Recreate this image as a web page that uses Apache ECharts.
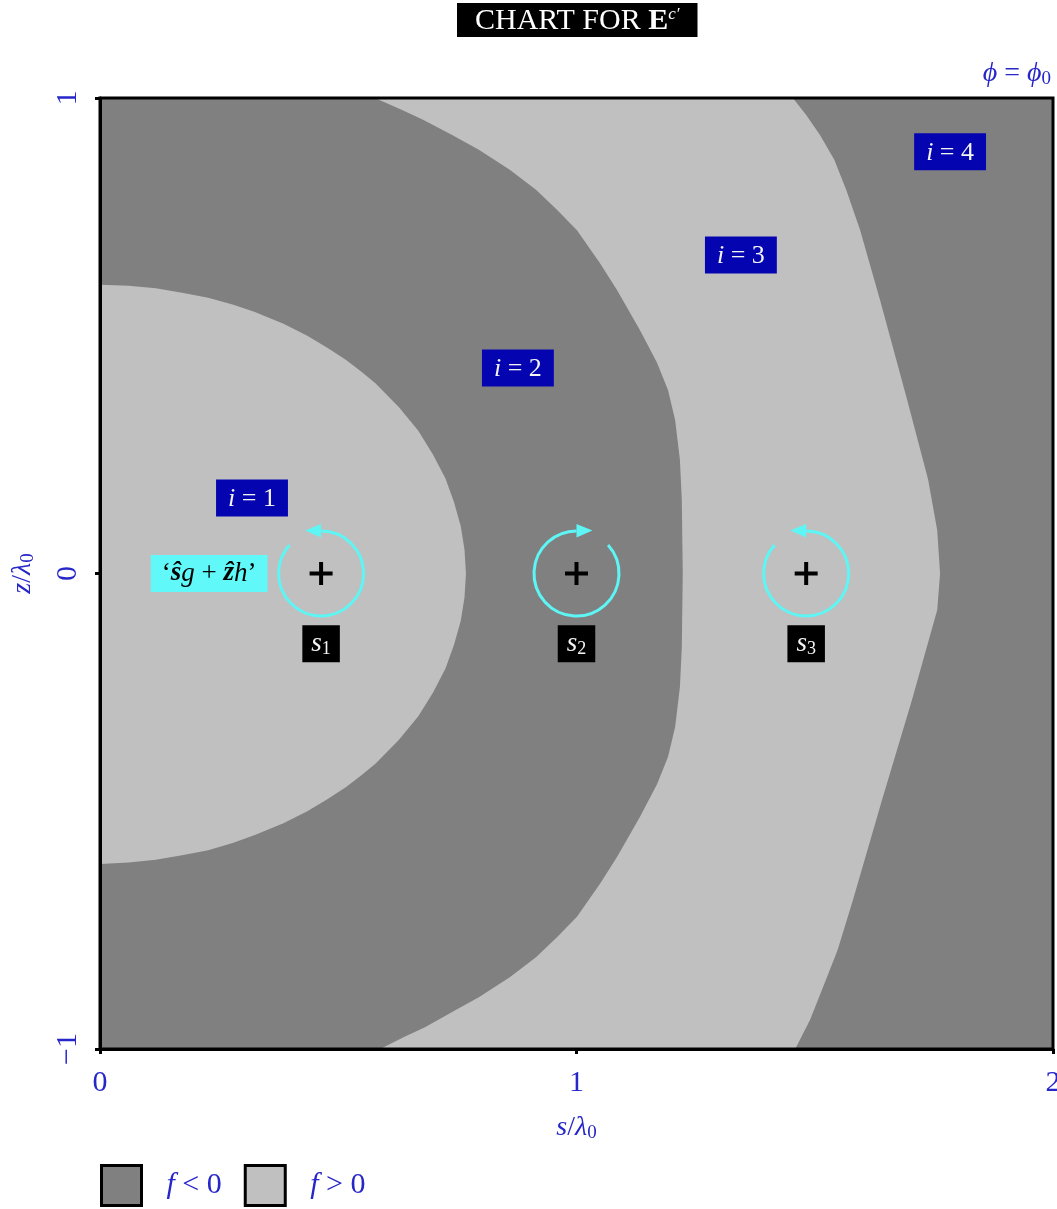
<!DOCTYPE html>
<html><head><meta charset="utf-8">
<script src="https://cdn.jsdelivr.net/npm/echarts@6/dist/echarts.min.js"></script>
<style>html,body{margin:0;padding:0;background:#fff}#c{width:1057px;height:1209px}</style>
</head><body><div id="c"></div>
<script>
// ---- data (s/λ0, z/λ0) ----
const sTicks = [0, 1, 2];
const zTicks = [-1, 0, 1];
const domain = [[0, -1], [2, -1], [2, 1], [0, 1]];
// boundary of the inner f>0 region (i=1), top to bottom
const curve1 = [[0, 0.607], [0.06, 0.605], [0.117, 0.6], [0.175, 0.59], [0.227, 0.58], [0.28, 0.565],
  [0.325, 0.55], [0.385, 0.525], [0.435, 0.5], [0.477, 0.475], [0.515, 0.45], [0.548, 0.425],
  [0.578, 0.4], [0.627, 0.35], [0.668, 0.3], [0.699, 0.25], [0.725, 0.2], [0.743, 0.15], [0.757, 0.1],
  [0.765, 0.05], [0.768, 0], [0.765, -0.05], [0.757, -0.1], [0.743, -0.15], [0.725, -0.2], [0.699, -0.25],
  [0.668, -0.3], [0.627, -0.35], [0.578, -0.4], [0.548, -0.425], [0.515, -0.45], [0.477, -0.475],
  [0.435, -0.5], [0.385, -0.525], [0.325, -0.55], [0.28, -0.566], [0.227, -0.582], [0.175, -0.592],
  [0.117, -0.602], [0.06, -0.608], [0, -0.611]];
// boundary between i=2 (f<0) and i=3 (f>0), top to bottom
const curve2 = [[0.577, 1.0], [0.634, 0.975], [0.678, 0.954], [0.739, 0.922], [0.795, 0.891],
  [0.860, 0.849], [0.915, 0.807], [0.959, 0.765], [1.001, 0.722], [1.049, 0.653], [1.085, 0.596],
  [1.133, 0.512], [1.169, 0.443], [1.192, 0.386], [1.207, 0.323], [1.217, 0.239], [1.221, 0.155],
  [1.223, 0.0], [1.221, -0.155], [1.217, -0.239], [1.207, -0.323], [1.192, -0.386], [1.169, -0.443],
  [1.133, -0.512], [1.085, -0.596], [1.049, -0.653], [1.001, -0.722], [0.959, -0.765], [0.915, -0.807],
  [0.860, -0.849], [0.795, -0.891], [0.739, -0.922], [0.682, -0.954], [0.638, -0.975], [0.588, -1.0]];
// boundary between i=3 (f>0) and i=4 (f<0), top to bottom
const curve3 = [[1.454, 1.0], [1.482, 0.964], [1.511, 0.922], [1.541, 0.870], [1.566, 0.807],
  [1.595, 0.723], [1.637, 0.575], [1.694, 0.365], [1.738, 0.197], [1.757, 0.091], [1.763, 0.0],
  [1.757, -0.077], [1.704, -0.266], [1.641, -0.477], [1.580, -0.687], [1.548, -0.792], [1.515, -0.876],
  [1.490, -0.939], [1.459, -1.0]];
// sources
const sourceS = [0.464, 1.0, 1.482];
const sourceZ = [0, 0, 0];
const sourceSpin = [-1, 1, -1];          // -1 counter-clockwise, 1 clockwise
const sourceNames = ['1', '2', '3'];
const sourceLabelZ = [-0.148, -0.148, -0.148];
// region index labels
const regionIdx = [1, 2, 3, 4];
const regionLabelS = [0.319, 0.877, 1.345, 1.784];
const regionLabelZ = [0.159, 0.432, 0.670, 0.887];
// field label
const fieldLabelPos = [0.229, 0];

// ---- styles ----
const DARK = '#808080', LIGHT = '#c0c0c0', BLUE = '#2626c9', CYAN = '#5ef5f5';
const SERIF = '"Liberation Serif","DejaVu Serif",serif';

const darkPolys = [domain];
const lightPolys = [curve1, curve2.concat(curve3.slice().reverse())];

function regionSeries(name, color, polys, z) {
  return {
    type: 'custom', name: name, coordinateSystem: 'cartesian2d', data: [[0, 0]], z: z, silent: true,
    itemStyle: { color: color },
    renderItem: function (params, api) {
      return { type: 'group', children: polys.map(function (pts) {
        return { type: 'polygon', shape: { points: pts.map(function (p) { return api.coord(p); }) },
          style: { fill: color, stroke: null } };
      }) };
    }
  };
}
function labelScatter(name, data, label) {
  return { type: 'scatter', name: name, z: 6, silent: true, symbolSize: 1,
    itemStyle: { color: 'rgba(0,0,0,0)', opacity: 1 }, emphasis: { disabled: true },
    data: data, label: label };
}

const chart = echarts.init(document.getElementById('c'), null, { renderer: 'canvas' });
const sub = { fontFamily: SERIF, fontSize: 19, color: BLUE, verticalAlign: 'bottom', lineHeight: 18 };
chart.setOption({
  animation: false,
  backgroundColor: '#fff',
  title: [
    { text: '{a|CHART FOR }{b|E}{c|c′}', left: 457, top: 3, backgroundColor: '#000', padding: [3, 18, 1, 18],
      textStyle: { fontWeight: 'normal', rich: {
        a: { color: '#fff', fontFamily: SERIF, fontSize: 30, fontWeight: 'normal', lineHeight: 30 },
        b: { color: '#fff', fontFamily: SERIF, fontSize: 30, fontWeight: 'bold', lineHeight: 30 },
        c: { color: '#fff', fontFamily: SERIF, fontSize: 17, fontWeight: 'normal', fontStyle: 'italic', verticalAlign: 'top', lineHeight: 14 } } } },
    { text: '{i|ϕ}{n| = }{i|ϕ}{s|0}', right: 1, top: 54,
      textStyle: { color: BLUE, fontFamily: SERIF, fontSize: 28, fontWeight: 'normal', rich: {
        i: { fontFamily: SERIF, fontSize: 28, fontStyle: 'italic', color: BLUE, lineHeight: 30 },
        n: { fontFamily: SERIF, fontSize: 28, color: BLUE, lineHeight: 30 },
        s: { fontFamily: SERIF, fontSize: 19, color: BLUE, verticalAlign: 'bottom', lineHeight: 18 } } } }
  ],
  legend: {
    data: ['neg', 'pos'], left: 100, top: 1164, padding: 0, icon: 'rect', itemWidth: 40, itemHeight: 40, itemGap: 22,
    selectedMode: false,
    itemStyle: { borderColor: '#000', borderWidth: 3 },
    formatter: function (n) { return n === 'neg' ? '{it|f}{n| < 0}' : '{it|f}{n| > 0}'; },
    textStyle: { color: BLUE, fontFamily: SERIF, fontSize: 30, padding: [0, 0, 0, 20],
      rich: { it: { fontFamily: SERIF, fontSize: 30, fontStyle: 'italic', color: BLUE },
        n: { fontFamily: SERIF, fontSize: 30, color: BLUE } } }
  },
  grid: { left: 100, right: 4, top: 98, bottom: 160, containLabel: false, outerBoundsMode: 'none' },
  xAxis: {
    type: 'value', min: sTicks[0], max: sTicks[sTicks.length - 1], interval: 1, z: 10,
    axisLine: { show: true, onZero: false, lineStyle: { color: '#000', width: 3 } },
    axisTick: { show: true, length: 5, lineStyle: { color: '#000', width: 3 } },
    splitLine: { show: false },
    axisLabel: { color: BLUE, fontFamily: SERIF, fontSize: 30, margin: 19 },
    name: '{it|s}/{it|λ}{sub|0}', nameLocation: 'middle', nameGap: 64,
    nameTextStyle: { color: BLUE, fontFamily: SERIF, fontSize: 28, rich: {
      it: { fontFamily: SERIF, fontSize: 28, fontStyle: 'italic', color: BLUE, lineHeight: 30 }, sub: sub } }
  },
  yAxis: {
    type: 'value', min: zTicks[0], max: zTicks[zTicks.length - 1], interval: 1, z: 10,
    axisLine: { show: true, onZero: false, lineStyle: { color: '#000', width: 3 } },
    axisTick: { show: true, length: 5, lineStyle: { color: '#000', width: 3 } },
    splitLine: { show: false },
    axisLabel: { color: BLUE, fontFamily: SERIF, fontSize: 30, margin: 17, rotate: 90,
      formatter: function (v) { return v < 0 ? '−' + Math.abs(v) : String(v); } },
    name: '{it|z}/{it|λ}{sub|0}', nameLocation: 'middle', nameGap: 62, nameRotate: 90,
    nameTextStyle: { color: BLUE, fontFamily: SERIF, fontSize: 28, rich: {
      it: { fontFamily: SERIF, fontSize: 28, fontStyle: 'italic', color: BLUE, lineHeight: 30 }, sub: sub } }
  },
  series: [
    regionSeries('neg', DARK, darkPolys, 1),
    regionSeries('pos', LIGHT, lightPolys, 2),
    {
      type: 'custom', name: 'frame', data: [[0, 0]], z: 9, silent: true,
      renderItem: function (params, api) {
        return { type: 'polygon', shape: { points: domain.map(function (p) { return api.coord(p); }) },
          style: { fill: 'none', stroke: '#000', lineWidth: 3 } };
      }
    },
    {
      type: 'custom', name: 'sources', data: sourceS.map(function (s, i) { return [s, sourceZ[i], sourceSpin[i]]; }),
      z: 5, silent: true, clip: false,
      renderItem: function (params, api) {
        const c = api.coord([api.value(0), api.value(1)]);
        const spin = api.value(2);
        const r = 42.5, cx = c[0], cy = c[1], d = Math.PI / 180;
        const arc = spin > 0 ? { startAngle: -42 * d, endAngle: 270 * d } : { startAngle: -90 * d, endAngle: 222 * d };
        const tip = spin > 0 ? 16 : -16;
        return { type: 'group', children: [
          { type: 'arc', shape: { cx: cx, cy: cy, r: r, startAngle: arc.startAngle, endAngle: arc.endAngle, clockwise: true },
            style: { stroke: CYAN, lineWidth: 3, fill: 'none' } },
          { type: 'polygon', shape: { points: [[cx, cy - r - 7], [cx, cy - r + 6.5], [cx + tip, cy - r - 0.5]] },
            style: { fill: CYAN } },
          { type: 'line', shape: { x1: cx - 11.5, y1: cy, x2: cx + 11.5, y2: cy }, style: { stroke: '#000', lineWidth: 4 } },
          { type: 'line', shape: { x1: cx, y1: cy - 11.5, x2: cx, y2: cy + 11.5 }, style: { stroke: '#000', lineWidth: 4 } }
        ] };
      }
    },
    labelScatter('regionLabels', regionLabelS.map(function (s, i) { return [s, regionLabelZ[i], regionIdx[i]]; }), {
      show: true, position: 'inside', backgroundColor: '#0404b0', padding: [6, 12, 4, 12],
      formatter: function (p) { return '{i|i}{n| = ' + p.value[2] + '}'; },
      rich: { i: { fontFamily: SERIF, fontSize: 26, fontStyle: 'italic', color: '#f4f4f4', lineHeight: 27 },
        n: { fontFamily: SERIF, fontSize: 26, color: '#f4f4f4', lineHeight: 27 } } }),
    labelScatter('sourceLabels', sourceS.map(function (s, i) { return [s, sourceLabelZ[i], sourceNames[i]]; }), {
      show: true, position: 'inside', backgroundColor: '#000', padding: [4, 9, 4, 9],
      formatter: function (p) { return '{i|s}{n|' + p.value[2] + '}'; },
      rich: { i: { fontFamily: SERIF, fontSize: 27, fontStyle: 'italic', color: '#f4f4f4', lineHeight: 29 },
        n: { fontFamily: SERIF, fontSize: 18, color: '#f4f4f4', verticalAlign: 'bottom', lineHeight: 18 } } }),
    labelScatter('fieldLabel', [fieldLabelPos], {
      show: true, position: 'inside', backgroundColor: '#60f8f8', padding: [4, 11, 4, 11],
      formatter: function () { return '{n|‘}{b|ŝ}{i|g}{n| + }{b|ẑ}{i|h}{n|’}'; },
      rich: { i: { fontFamily: SERIF, fontSize: 27, fontStyle: 'italic', color: '#000', lineHeight: 29 },
        b: { fontFamily: SERIF, fontSize: 27, fontStyle: 'italic', fontWeight: 'bold', color: '#000', lineHeight: 29 },
        n: { fontFamily: SERIF, fontSize: 27, color: '#000', lineHeight: 29 } } })
  ]
});
</script>
</body></html>
